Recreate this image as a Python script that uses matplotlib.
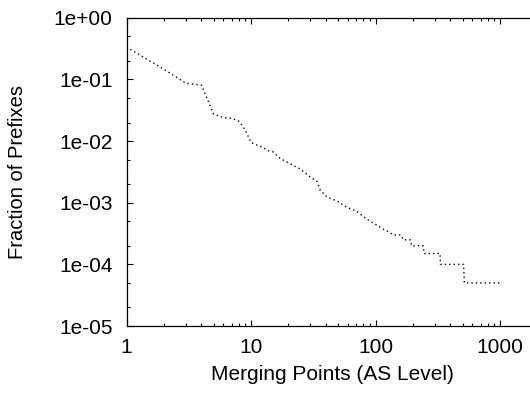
import matplotlib
matplotlib.use("Agg")
import matplotlib.pyplot as plt
from matplotlib.ticker import LogLocator, FixedLocator, FixedFormatter, NullFormatter

plt.rcParams['font.family'] = ['Liberation Sans', 'DejaVu Sans']

# CCDF of merging points
merging_points = [1, 2, 3, 4, 5, 6, 7, 8, 9, 10, 11, 12, 14, 15, 17, 21, 25,
                  30, 34, 36, 41, 49, 59, 71, 85, 102, 116, 127, 139, 160,
                  167, 190, 195, 242, 245, 330, 332, 510, 517, 1000]
fraction = [0.335, 0.146, 0.0866, 0.081, 0.0275, 0.024, 0.0235, 0.021, 0.015,
            0.0095, 0.0087, 0.0082, 0.0069, 0.0067, 0.0053, 0.0042, 0.0035,
            0.0026, 0.0022, 0.0016, 0.00122, 0.00107, 0.00084, 0.00072,
            0.00054, 0.000435, 0.00037, 0.00034, 0.0003, 0.0003,
            0.00025, 0.00025, 0.0002, 0.0002, 0.00015, 0.00015, 0.0001,
            0.0001, 5e-05, 5e-05]

x_ticks = [1, 10, 100, 1000]
x_tick_labels = ['1', '10', '100', '1000']
y_ticks = [1e-5, 1e-4, 1e-3, 1e-2, 1e-1, 1]
y_tick_labels = ['1e-05', '1e-04', '1e-03', '1e-02', '1e-01', '1e+00']

fig = plt.figure(figsize=(5.3, 3.94), dpi=100)
W, H = 530.0, 394.0
# the right border runs past the picture edge, as in the reference
left_px, right_px, top_px, bottom_px = 126.5, 537.5, 17.8, 326.0
ax = fig.add_axes([left_px / W, 1 - bottom_px / H,
                   (right_px - left_px) / W, (bottom_px - top_px) / H])

ax.plot(merging_points, fraction, color='black', linewidth=1.0,
        linestyle=(0, (1, 2.2)))

ax.set_xscale('log')
ax.set_yscale('log')
ax.set_xlim(1, 2000)
ax.set_ylim(1e-5, 1)

ax.xaxis.set_major_locator(FixedLocator(x_ticks))
ax.xaxis.set_major_formatter(FixedFormatter(x_tick_labels))
ax.xaxis.set_minor_locator(LogLocator(base=10, subs=range(2, 10), numticks=20))
ax.xaxis.set_minor_formatter(NullFormatter())
ax.yaxis.set_major_locator(FixedLocator(y_ticks))
ax.yaxis.set_major_formatter(FixedFormatter(y_tick_labels))
ax.yaxis.set_minor_locator(LogLocator(base=10, subs=[2, 5], numticks=20))
ax.yaxis.set_minor_formatter(NullFormatter())

ax.tick_params(which='both', direction='in', top=True, right=True,
               width=0.8, colors='black', labelsize=15)
ax.tick_params(which='major', length=4)
ax.tick_params(which='minor', length=2)
ax.tick_params(axis='y', which='major', pad=10)
ax.tick_params(axis='x', which='major', pad=8.5)

for s in ax.spines.values():
    s.set_linewidth(0.9)

ax.set_xlabel('Merging Points (AS Level)', fontsize=15, labelpad=6)
ax.set_ylabel('Fraction of Prefixes', fontsize=14.5, labelpad=19)

fig.savefig('out.png', dpi=100)
